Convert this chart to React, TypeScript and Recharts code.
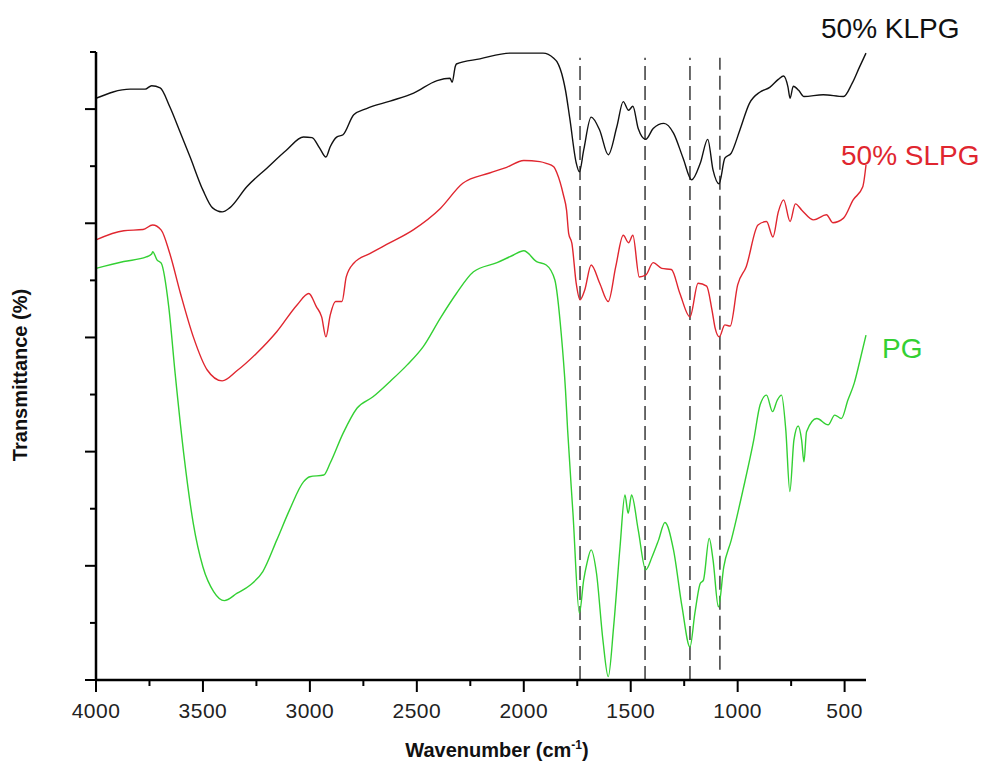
import React from "react";
import { LineChart, Line, XAxis, YAxis, ReferenceLine } from "recharts";

// [wavenumber (cm-1), transmittance (a.u.)]
const klpg: [number, number][] = [
  [4000, 101.9], [3840, 103.5], [3770, 103.5], [3740, 104.1], [3700, 103.7], [3655, 100.4],
  [3605, 95.8], [3560, 91.6], [3500, 85.8], [3455, 82.7], [3410, 82.0], [3375, 82.7],
  [3295, 86.4], [3200, 89.7], [3110, 92.8], [3030, 95.1], [2990, 95.0], [2955, 93.2],
  [2925, 91.6], [2905, 93.4], [2875, 95.1], [2845, 95.5], [2795, 99.0], [2735, 100.1],
  [2625, 101.4], [2515, 102.8], [2405, 105.0], [2345, 105.4], [2335, 104.7], [2320, 107.5],
  [2315, 107.9], [2205, 108.8], [2065, 109.8], [1910, 109.8], [1860, 108.9], [1845, 108.3],
  [1815, 105.1], [1805, 103.3], [1785, 98.4], [1755, 90.6], [1740, 89.0], [1720, 92.8],
  [1685, 98.6], [1645, 96.3], [1605, 92.0], [1565, 96.9], [1535, 101.3], [1510, 99.8],
  [1490, 100.5], [1465, 96.6], [1430, 94.7], [1395, 96.6], [1345, 97.5], [1300, 95.8],
  [1255, 91.4], [1215, 87.6], [1175, 90.5], [1140, 94.7], [1115, 89.3], [1087, 86.9],
  [1060, 91.4], [1030, 92.3], [990, 96.3], [945, 101.0], [895, 103.0], [850, 103.8],
  [810, 105.2], [785, 105.8], [765, 103.9], [755, 101.9], [740, 104.0], [715, 103.3],
  [690, 102.2], [600, 102.5], [505, 102.2], [465, 104.5], [430, 107.4], [400, 109.8],
];

const slpg: [number, number][] = [
  [4000, 77.1], [3870, 78.7], [3780, 78.9], [3735, 79.7], [3695, 78.8], [3655, 74.7],
  [3605, 67.7], [3545, 60.1], [3480, 54.3], [3410, 52.4], [3340, 54.2], [3250, 57.2],
  [3155, 61.0], [3060, 65.7], [3005, 67.7], [2970, 65.4], [2945, 63.6], [2925, 60.1],
  [2905, 63.9], [2880, 66.3], [2850, 66.3], [2830, 70.6], [2795, 73.0], [2720, 74.7],
  [2625, 76.6], [2515, 78.9], [2390, 82.6], [2285, 87.0], [2160, 88.8], [2080, 89.8],
  [2000, 91.0], [1925, 90.8], [1895, 90.5], [1860, 89.9], [1845, 88.8], [1815, 85.0],
  [1800, 82.3], [1790, 78.2], [1775, 76.5], [1755, 69.5], [1737, 66.6], [1715, 68.3],
  [1685, 72.7], [1645, 69.5], [1605, 66.3], [1570, 72.4], [1535, 77.9], [1510, 76.6],
  [1490, 77.9], [1460, 70.6], [1430, 70.9], [1395, 73.1], [1355, 72.1], [1310, 71.9],
  [1270, 67.7], [1223, 63.6], [1185, 69.5], [1145, 69.0], [1120, 64.8], [1105, 61.6],
  [1086, 60.1], [1060, 62.2], [1035, 62.0], [1000, 69.2], [960, 72.4], [905, 79.7],
  [865, 80.3], [835, 77.6], [810, 82.0], [785, 84.1], [755, 80.3], [730, 83.4],
  [700, 82.3], [645, 80.6], [585, 81.5], [555, 80.1], [505, 80.9], [460, 84.1],
  [415, 86.4], [400, 90.2],
];

const pg: [number, number][] = [
  [4000, 72.1], [3870, 73.3], [3765, 74.1], [3740, 74.6], [3735, 75.0], [3715, 73.6],
  [3695, 73.0], [3660, 65.4], [3630, 53.7], [3590, 39.7], [3545, 27.4], [3500, 19.8],
  [3450, 15.5], [3400, 13.9], [3340, 15.2], [3280, 16.6], [3220, 19.0], [3155, 24.5],
  [3095, 29.8], [3030, 34.7], [3000, 35.6], [2935, 35.9], [2905, 38.0], [2845, 43.2],
  [2780, 47.6], [2705, 49.6], [2625, 52.3], [2545, 55.2], [2470, 58.4], [2390, 63.4],
  [2315, 67.7], [2235, 71.5], [2125, 73.1], [2050, 74.4], [2000, 75.2], [1940, 73.3],
  [1895, 72.7], [1855, 70.1], [1825, 60.7], [1805, 50.8], [1795, 43.8], [1770, 29.2],
  [1740, 11.7], [1720, 17.5], [1705, 20.4], [1685, 22.8], [1660, 18.7], [1630, 7.0],
  [1605, 0.6], [1580, 9.3], [1550, 23.3], [1527, 32.4], [1512, 29.2], [1496, 32.4],
  [1465, 26.3], [1430, 19.3], [1400, 21.6], [1370, 24.5], [1340, 27.6], [1300, 22.8],
  [1260, 12.8], [1223, 5.8], [1200, 11.7], [1175, 16.9], [1160, 17.5], [1133, 24.8],
  [1115, 21.0], [1090, 12.8], [1065, 19.8], [1030, 24.5], [975, 33.3], [925, 42.0],
  [895, 48.2], [865, 49.9], [837, 47.0], [815, 49.0], [795, 49.9], [775, 43.8],
  [756, 33.0], [737, 42.0], [717, 44.5], [701, 42.0], [690, 38.2], [678, 43.5],
  [630, 45.8], [577, 44.7], [546, 46.4], [515, 45.8], [485, 49.0], [455, 52.0],
  [430, 55.7], [400, 60.4],
];

const xTicks = [4000, 3750, 3500, 3250, 3000, 2750, 2500, 2250, 2000, 1750, 1500, 1250, 1000, 750, 500];
const yTicks = [0, 10, 20, 30, 40, 50, 60, 70, 80, 90, 100, 110];
const bandLines = [1737, 1433, 1223, 1083];

const toRows = (pts: [number, number][]) => pts.map(([wn, t]) => ({ wn, t }));

const FONT = "'Liberation Sans', Arial, sans-serif";

function XTick({ x, y, payload }: any) {
  const major = payload.value % 500 === 0;
  return (
    <g>
      <line x1={x} x2={x} y1={y} y2={y + (major ? 12 : 6)} stroke="#000" strokeWidth={2} />
      {major && (
        <text x={x} y={y + 38} textAnchor="middle" fontSize={21} fontFamily={FONT} fill="#222" letterSpacing={0.5}>
          {payload.value}
        </text>
      )}
    </g>
  );
}

function YTick({ x, y, payload }: any) {
  const major = payload.value % 20 === 0;
  return <line x1={x - (major ? 11 : 6)} x2={x} y1={y} y2={y} stroke="#000" strokeWidth={2} />;
}

function XTitle({ viewBox }: any) {
  const cx = viewBox.x + viewBox.width / 2 + 16;
  return (
    <text x={cx} y={viewBox.y + 77} textAnchor="middle" fontSize={20} fontWeight="bold" fontFamily={FONT} fill="#111">
      Wavenumber (cm<tspan dy={-8} fontSize={12}>-1</tspan><tspan dy={8}>)</tspan>
    </text>
  );
}

function YTitle({ viewBox }: any) {
  const cy = viewBox.y + viewBox.height / 2 + 9;
  return (
    <text
      x={27}
      y={cy}
      transform={`rotate(-90 27 ${cy})`}
      textAnchor="middle"
      fontSize={20}
      fontWeight="bold"
      fontFamily={FONT}
      fill="#111"
    >
      Transmittance (%)
    </text>
  );
}

export default function App() {
  return (
    <div style={{ position: "absolute", left: 0, top: 0, width: 983, height: 767, background: "#fff" }}>
      <LineChart width={983} height={767} margin={{ top: 52, right: 117, bottom: 0, left: 0 }}>
        <XAxis
          type="number"
          dataKey="wn"
          domain={[400, 4000]}
          reversed
          ticks={xTicks}
          interval={0}
          tickSize={0}
          tickMargin={0}
          tickLine={false}
          tick={<XTick />}
          axisLine={{ stroke: "#000", strokeWidth: 2.5 }}
          height={87}
          label={{ content: <XTitle /> }}
        />
        <YAxis
          type="number"
          domain={[0, 110]}
          ticks={yTicks}
          interval={0}
          tickSize={0}
          tickMargin={0}
          tickLine={false}
          tick={<YTick />}
          axisLine={{ stroke: "#000", strokeWidth: 2.5 }}
          width={96}
          allowDataOverflow
          label={{ content: <YTitle /> }}
        />
        {bandLines.map((wn, i) => (
          <ReferenceLine
            key={wn}
            segment={[{ x: wn, y: i === 3 ? 1.8 : 0 }, { x: wn, y: 109 }]}
            stroke="#3a3a3a"
            strokeWidth={1.5}
            strokeDasharray="14 6"
          />
        ))}
        <Line data={toRows(klpg)} dataKey="t" type="monotone" stroke="#111" strokeWidth={1.4} dot={false} activeDot={false} isAnimationActive={false} />
        <Line data={toRows(slpg)} dataKey="t" type="monotone" stroke="#e0262f" strokeWidth={1.4} dot={false} activeDot={false} isAnimationActive={false} />
        <Line data={toRows(pg)} dataKey="t" type="monotone" stroke="#33d033" strokeWidth={1.4} dot={false} activeDot={false} isAnimationActive={false} />
      </LineChart>
      <svg width={983} height={767} style={{ position: "absolute", left: 0, top: 0, pointerEvents: "none" }}>
        <text x={821} y={38} fontSize={28} fontFamily={FONT} fill="#111">50% KLPG</text>
        <text x={841} y={165} fontSize={28} fontFamily={FONT} fill="#e0262f">50% SLPG</text>
        <text x={882} y={358} fontSize={28} fontFamily={FONT} fill="#33d033">PG</text>
      </svg>
    </div>
  );
}
